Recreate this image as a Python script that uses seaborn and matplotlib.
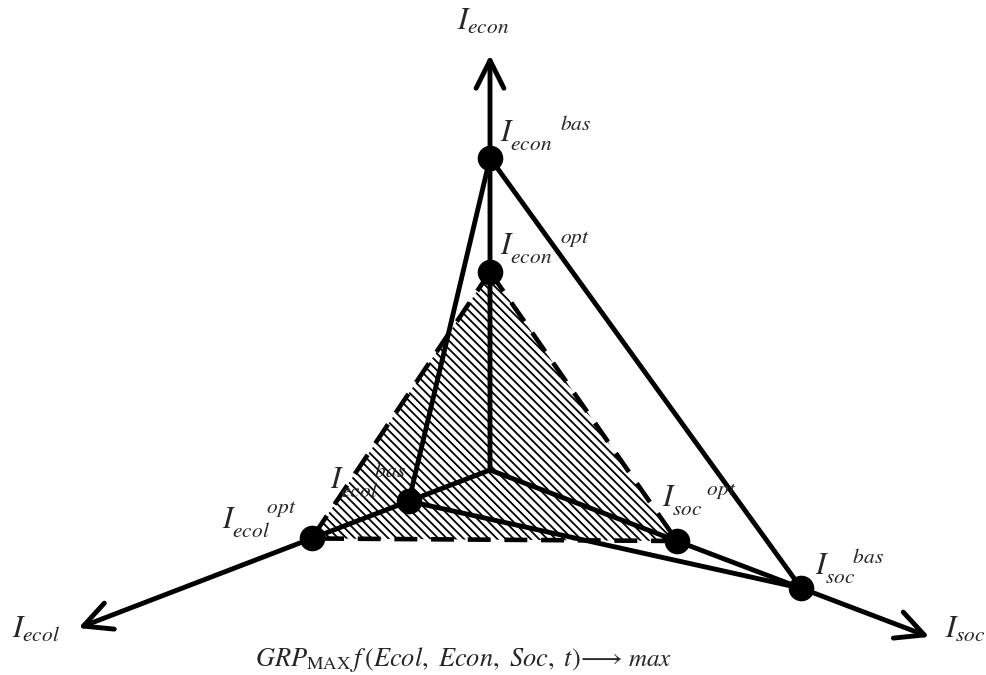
import numpy as np
import pandas as pd
import seaborn as sns
import matplotlib.pyplot as plt

# three index axes of the diagram: direction (deg, counter-clockwise from +x) and drawn length
axis_names = ["econ", "ecol", "soc"]
axis_angles = [90, 201, -20.8]
axis_lengths = [415, 441, 470]

# base and optimal value of each index, measured from the origin along its axis
bas_values = [312, 87, 333]
opt_values = [198, 191, 200]

formula = r"$GRP_{\mathrm{MAX}}\,f\,(Ecol,\ Econ,\ Soc,\ t)\!\longrightarrow$"

sns.set_theme(style="white")
plt.rcParams["mathtext.fontset"] = "stix"
plt.rcParams["font.family"] = ["STIXGeneral", "DejaVu Serif"]
plt.rcParams["hatch.linewidth"] = 1.3

origin = np.array([490.0, 470.0])


def to_xy(angle, r):
    a = np.deg2rad(angle)
    return origin + r * np.array([np.cos(a), -np.sin(a)])


bas_pts = np.array([to_xy(a, r) for a, r in zip(axis_angles, bas_values)])
opt_pts = np.array([to_xy(a, r) for a, r in zip(axis_angles, opt_values)])
tips = np.array([to_xy(a, r) for a, r in zip(axis_angles, axis_lengths)])

fig = plt.figure(figsize=(9.87, 6.75), dpi=100)
ax = fig.add_axes([0, 0, 1, 1])
ax.set_xlim(0, 987)
ax.set_ylim(675, 0)
ax.axis("off")

# optimal triangle: hatched, dashed outline
ax.fill(opt_pts[:, 0], opt_pts[:, 1], facecolor="white", edgecolor="black",
        hatch="\\\\\\\\", linewidth=0, zorder=1)
closed_opt = np.vstack([opt_pts, opt_pts[:1]])
ax.plot(closed_opt[:, 0], closed_opt[:, 1], color="black", lw=3.3,
        linestyle=(0, (5, 3)), zorder=2)

# axes with open arrow heads
for tip in tips:
    ax.annotate("", xy=tip, xytext=origin,
                arrowprops=dict(arrowstyle="->", lw=3.5, color="black",
                                mutation_scale=50, shrinkA=0, shrinkB=0),
                zorder=3)

# base triangle: solid
closed_bas = np.vstack([bas_pts, bas_pts[:1]])
ax.plot(closed_bas[:, 0], closed_bas[:, 1], color="black", lw=3.5, zorder=3)

# points
pts = pd.DataFrame({
    "x": np.concatenate([bas_pts[:, 0], opt_pts[:, 0]]),
    "y": np.concatenate([bas_pts[:, 1], opt_pts[:, 1]]),
    "kind": ["bas"] * 3 + ["opt"] * 3,
})
sns.scatterplot(data=pts, x="x", y="y", color="black", s=340, edgecolor="black",
                linewidth=0, legend=False, ax=ax, zorder=4)
ax.set_xlabel("")
ax.set_ylabel("")


def index_label(x, y, name, sup=None, gap=""):
    if sup:
        s = r"$I_{%s}^{%s%s}$" % (name, gap, sup)
    else:
        s = r"$I_{%s}$" % name
    ax.text(x, y, s, fontsize=22, ha="left", va="baseline", zorder=5)


index_label(457, 30, "econ")
index_label(500, 142, "econ", "bas", r"\quad\quad\quad")
index_label(500, 256, "econ", "opt", r"\quad\quad\quad")
index_label(330, 489, "ecol", "bas", r"\quad\quad")
index_label(222, 530, "ecol", "opt", r"\quad\quad")
index_label(662, 508, "soc", "opt", r"\quad\quad")
index_label(815, 575, "soc", "bas", r"\quad\;\;")
index_label(12, 638, "ecol")
index_label(945, 638, "soc")

ax.text(255, 666, formula, fontsize=19, ha="left", va="baseline")
ax.text(628, 666, r"$max$", fontsize=18, ha="left", va="baseline")

fig.savefig("out.png", dpi=100)
